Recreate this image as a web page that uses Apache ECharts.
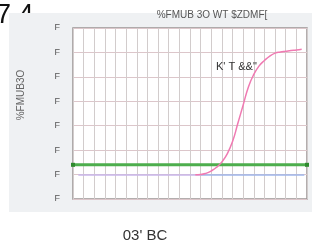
<!DOCTYPE html>
<html><head><meta charset="utf-8">
<script src="https://cdn.jsdelivr.net/npm/echarts@6/dist/echarts.min.js"></script>
<style>html,body{margin:0;padding:0;background:#fff}#c{width:317px;height:248px}</style>
</head><body><div id="c"></div>
<script>
var cornerText = '7 4';
var titleText = '%FMUB 3O WT $ZDMF[';
var yAxisName = '%FMUB3O';
var yTickLabel = 'F';
var curveLabel = 'K\' T &&"';
var footerText = '03\' BC';

var pinkCycles = [23,24,25,26,27,28,29,30,31,32,33,34,35,36,37,38,39,40,41,42,43];
var pinkValues = [0.99,1.0,1.05,1.15,1.3,1.52,1.85,2.35,3.1,3.85,4.6,5.1,5.45,5.67,5.85,5.97,6.02,6.05,6.08,6.1,6.13];
var purpleCycles = [1,24];
var purpleValues = [0.98,0.98];
var blueCycles = [24,43.5];
var blueValues = [0.98,0.98];
var thresholdCycles = [0,44];
var thresholdValues = [1.4,1.4];

function pairs(xs, ys){ return xs.map(function(x,i){ return [x, ys[i]]; }); }

var chart = echarts.init(document.getElementById('c'));
chart.setOption({
  animation:false,
  backgroundColor:'#fff',
  graphic:[
    {type:'text', z:-20, style:{x:-4, y:2, text:cornerText, fontSize:27, fill:'#111', fontFamily:'Liberation Sans'}},
    {type:'rect', shape:{x:9,y:13,width:303,height:199}, z:-10, style:{fill:'#eff1f3'}},
    {type:'text', z:5, style:{x:212, y:10, textAlign:'center', text:titleText, fontSize:10, fill:'#555', fontFamily:'Liberation Sans'}},
    {type:'text', z:5, rotation:Math.PI/2, x:21, y:95, style:{x:0, y:0, textAlign:'center', textVerticalAlign:'middle', text:yAxisName, fontSize:10, fill:'#666', fontFamily:'Liberation Sans'}},
    {type:'text', z:5, style:{x:216, y:61, text:curveLabel, fontSize:11, fill:'#333', fontFamily:'Liberation Sans'}},
    {type:'text', z:5, style:{x:145, y:228, textAlign:'center', text:footerText, fontSize:15, fill:'#333', fontFamily:'Liberation Sans'}}
  ],
  grid:{left:73, top:28, width:234, height:171, show:true, backgroundColor:'#fff', borderColor:'#9a9494', borderWidth:1.5},
  xAxis:{type:'value', min:0, max:44, interval:2, z:1,
    axisLabel:{show:false}, axisTick:{show:false}, axisLine:{show:false},
    splitLine:{show:true, lineStyle:{color:'#d2cccc', width:1}}},
  yAxis:{type:'value', min:0, max:7, interval:1, z:1,
    axisLabel:{formatter:function(){return yTickLabel;}, fontSize:9, color:'#555', margin:13, fontFamily:'Liberation Sans'},
    axisTick:{show:false}, axisLine:{show:false},
    splitLine:{show:true, lineStyle:{color:'#dcc6ca', width:1}}},
  series:[
    {type:'line', data:pairs(purpleCycles, purpleValues), showSymbol:false, lineStyle:{color:'#c8b6ea', width:1.5}, z:3},
    {type:'line', data:pairs(blueCycles, blueValues), showSymbol:false, lineStyle:{color:'#9fb6ea', width:1.5}, z:3},
    {type:'line', data:pairs(thresholdCycles, thresholdValues), symbol:'rect', symbolSize:4, showSymbol:true,
      itemStyle:{color:'#2e8a2e'}, lineStyle:{color:'#4dae4d', width:3}, z:4},
    {type:'line', data:pairs(pinkCycles, pinkValues), smooth:true, showSymbol:false, lineStyle:{color:'#f07ab2', width:1.5}, z:5}
  ]
});
</script></body></html>
